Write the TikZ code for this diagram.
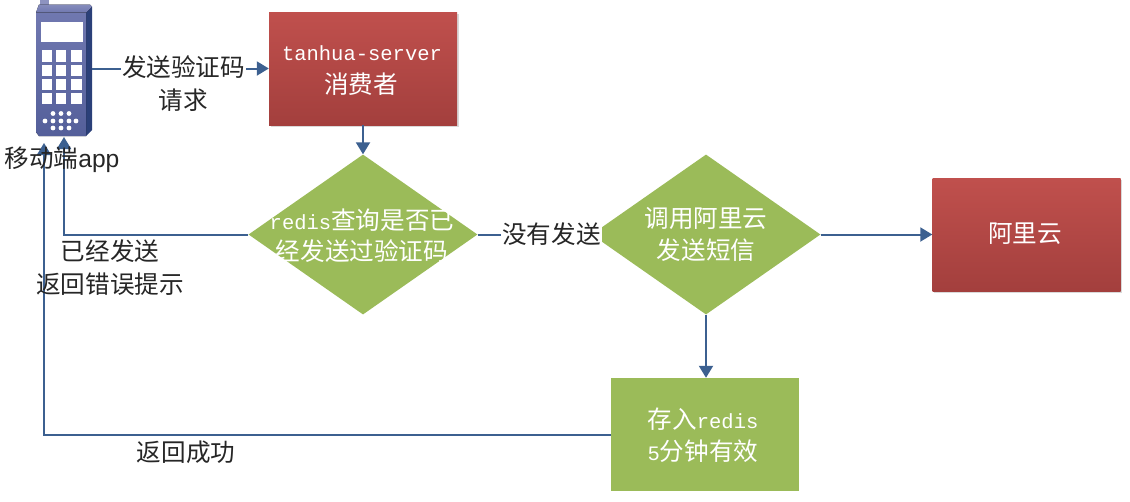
\documentclass[tikz,border=0pt]{standalone}
\usepackage{fontspec}
\usetikzlibrary{arrows.meta,shapes.geometric,shadows}
\setmainfont{Liberation Mono}
\newfontfamily\cjk{Noto Sans CJK SC}
\newfontfamily\msans{Liberation Sans}
\newcommand{\cn}[1]{{\cjk\fontsize{24.6}{30}\selectfont #1}}
\newcommand{\lat}[1]{{\fontsize{20.5}{30}\selectfont #1}}
\definecolor{linecol}{HTML}{3C6090}
\definecolor{greenfill}{HTML}{9BBB59}
\definecolor{redtop}{HTML}{C0504D}
\definecolor{redbot}{HTML}{A33F3D}
\definecolor{phonea}{HTML}{7078B0}
\definecolor{phoneb}{HTML}{545F9A}
\definecolor{phoned}{HTML}{2B4079}
\tikzset{
  x=1pt,y=-1pt,
  conn/.style={draw=linecol,line width=2pt,-{Triangle[length=12pt,width=14pt]}},
  redbox/.style={rectangle,minimum width=188pt,minimum height=113pt,inner sep=0pt,top color=redtop,bottom color=redbot,draw=none,drop shadow={shadow xshift=1.5pt,shadow yshift=-1.5pt,fill=black!15,opacity=1}},
  greenbox/.style={rectangle,minimum width=188pt,minimum height=113pt,inner sep=0pt,fill=greenfill},
  decision/.style={diamond,aspect=1.42,minimum width=229pt,minimum height=160pt,inner sep=0pt,fill=greenfill},
  whitetext/.style={text=white,align=center,inner sep=0pt},
  blacktext/.style={text=black!85,align=center,inner sep=0pt},
  gaptext/.style={blacktext,fill=white,inner sep=1pt},
  whitekey/.style={fill=white,draw=none},
  phonebody/.style={rectangle,minimum width=56pt,minimum height=132pt,inner sep=0pt}
}
\begin{document}
\begin{tikzpicture}
\useasboundingbox (0,0) rectangle (1130,501);
% nodes
\node[phonebody] (phone) at (64,70) {};
\coordinate (phoneA) at (64,137);
\coordinate (phoneB) at (44,143);
\node[redbox] (server) at (363,68.5) {};
\node[decision] (d1) at (363,234.5) {};
\node[decision] (d2) at (706,234.5) {};
\node[redbox] (ali) at (1026.5,234.5) {};
\node[greenbox] (store) at (705,434.5) {};
% phone drawing
\fill[phonea!80!white] (40,0) rectangle (49,6);
\fill[phoned] (86,12) -- (92,6.5) -- (92,130) -- (86,136) -- cycle;
\fill[top color=phonea!85!white,bottom color=phonea] (36,12.5) -- (39,4.5) -- (90,4.5) -- (92,6.5) -- (86,12.5) -- cycle;
\fill[top color=phonea,bottom color=phoneb] (36,12.5) -- (86,12.5) -- (86,136) -- (39,136) -- (36,132) -- cycle;
\fill[whitekey] (40.7,21.7) rectangle (83,42);
\foreach \ky/\kb in {49.5/61.5,64.5/75.5,78.5/89.5,92.5/103.5}{
  \foreach \kx/\kr in {41.7/51.7,55.7/66.3,70.7/81.7}{
    \fill[whitekey] (\kx,\ky) rectangle (\kr,\kb);
  }
}
\foreach \dx in {53,61,69}{
  \fill[whitekey] (\dx,113.5) circle (2.4pt);
  \fill[whitekey] (\dx,128) circle (2.4pt);
}
\foreach \dx in {45,53,61,69,76}{
  \fill[whitekey] (\dx,121) circle (2.4pt);
}
% connectors
\draw[conn] (server.west -| phone.east) -- (server.west);
\draw[conn] (server.south) -- (d1.north);
\draw[conn] (d1.west) -| (phoneA);
\draw[conn,-] (d1.east) -- (d2.west);
\draw[conn] (d2.east) -- (ali.west);
\draw[conn] (d2.south) -- (d2.south |- store.north);
\draw[conn] (store.west) -| (phoneB);
% labels
\node[blacktext] (lphone) at (62,160) {\cn{移动端}{\msans\fontsize{24.6}{30}\selectfont app}};
\node[gaptext] (lreq) at (183.5,67.5) {\cn{发送验证码}};
\node[blacktext] (lreq2) at (183.5,100) {\cn{请求}};
\node[whitetext] (tserver) at (362,53) {\lat{tanhua-server}};
\node[whitetext] (tserver2) at (361,84.5) {\cn{消费者}};
\node[whitetext] (td1a) at (362,220.5) {\lat{redis}\cn{查询是否已}};
\node[whitetext] (td1b) at (362,251) {\cn{经发送过验证码}};
\node[gaptext] (lno) at (551.5,234) {\cn{没有发送}};
\node[whitetext] (td2a) at (706,218.5) {\cn{调用阿里云}};
\node[whitetext] (td2b) at (706,250.5) {\cn{发送短信}};
\node[whitetext] (tali) at (1025,234) {\cn{阿里云}};
\node[whitetext] (ts1) at (703,419.5) {\cn{存入}\lat{redis}};
\node[whitetext] (ts2) at (703,451) {\lat{5}\cn{分钟有效}};
\node[blacktext] (lsent1) at (110,251) {\cn{已经发送}};
\node[blacktext] (lsent2) at (110,284) {\cn{返回错误提示}};
\node[blacktext] (lok) at (186,452) {\cn{返回成功}};
\end{tikzpicture}
\end{document}
